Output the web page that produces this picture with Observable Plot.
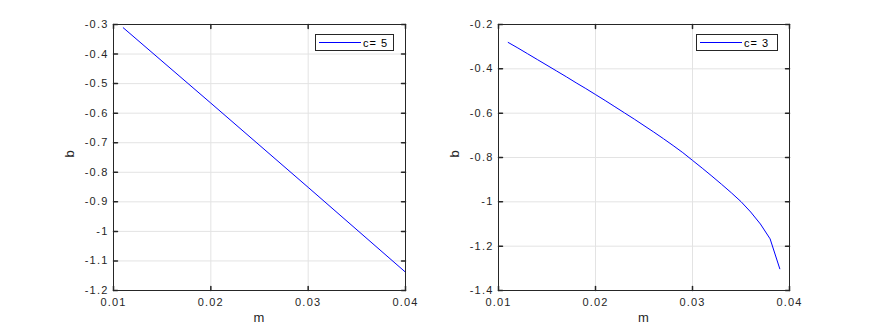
<!DOCTYPE html>
<html><head><meta charset="utf-8">
<script src="https://cdn.jsdelivr.net/npm/d3@7"></script>
<script src="https://cdn.jsdelivr.net/npm/@observablehq/plot@0.6"></script>
<style>
body{margin:0;background:#fff;font-family:"Liberation Sans",Arial,sans-serif;}
#wrap{position:relative;width:872px;height:327px;overflow:hidden;}
.panel{position:absolute;top:0;}
.panel svg text{letter-spacing:1.2px;}
.legend{position:absolute;border:1px solid #262626;background:#fff;height:15px;font-size:11px;letter-spacing:1px;color:#000;display:flex;align-items:center;box-sizing:border-box;}
.legend .sw{display:inline-block;width:42px;height:0;border-top:1px solid #0000ff;margin:0 2px 0 3px;}
</style></head>
<body><div id="wrap"></div>
<script>
// Left panel: c = 5
const mLeft = [0.011, 0.020, 0.030, 0.040];
const bLeft = [-0.311, -0.566, -0.851, -1.138];
const labelLeft = "c= 5";
const xTicks = [0.01, 0.02, 0.03, 0.04];
const yTicksLeft = [-1.2, -1.1, -1, -0.9, -0.8, -0.7, -0.6, -0.5, -0.4, -0.3];

// Right panel: c = 3
const mRight = [0.011,0.012,0.013,0.014,0.015,0.016,0.017,0.018,0.019,0.020,0.021,0.022,0.023,0.024,0.025,0.026,0.027,0.028,0.029,0.030,0.031,0.032,0.033,0.034,0.035,0.036,0.037,0.038,0.039];
const bRight = [-0.281,-0.306,-0.332,-0.358,-0.384,-0.410,-0.436,-0.463,-0.489,-0.516,-0.543,-0.571,-0.599,-0.627,-0.656,-0.685,-0.715,-0.746,-0.778,-0.813,-0.848,-0.884,-0.921,-0.959,-0.999,-1.046,-1.100,-1.167,-1.302];
const labelRight = "c= 3";
const yTicksRight = [-1.4, -1.2, -1, -0.8, -0.6, -0.4, -0.2];

const ink = "#262626";
const tickShape = {draw(ctx, l){ctx.moveTo(0,0); ctx.lineTo(0,-l);}};

function panel({ms, bs, yTicks, yDomain, left, marginLeft, marginRight, legendText, legendBox}) {
  const data = ms.map((m,i)=>({m, b: bs[i]}));
  const xd = [0.01, 0.04];
  const fmtY = d => String(+d.toFixed(1));
  const fmtX = d => d.toFixed(2);
  const chart = Plot.plot({
    width: 436, height: 327,
    marginLeft, marginRight, marginTop: 24, marginBottom: 37,
    style: {fontFamily: '"Liberation Sans", Arial, sans-serif', fontSize: "11px", color: ink, background: "#fff"},
    x: {domain: xd, ticks: xTicks},
    y: {domain: yDomain, ticks: yTicks},
    marks: [
      Plot.gridX(xTicks, {stroke: "#e3e3e3", strokeOpacity: 1}),
      Plot.gridY(yTicks, {stroke: "#e3e3e3", strokeOpacity: 1}),
      Plot.line(data, {x: "m", y: "b", stroke: "#0000ff", strokeWidth: 1}),
      // inward ticks
      Plot.vector(yTicks, {x: xd[0], y: d=>d, rotate: 90, length: 4, anchor: "start", shape: tickShape, stroke: ink}),
      Plot.vector(yTicks, {x: xd[1], y: d=>d, rotate: -90, length: 4, anchor: "start", shape: tickShape, stroke: ink}),
      Plot.vector(xTicks, {x: d=>d, y: yDomain[0], rotate: 0, length: 4, anchor: "start", shape: tickShape, stroke: ink}),
      Plot.vector(xTicks, {x: d=>d, y: yDomain[1], rotate: 180, length: 4, anchor: "start", shape: tickShape, stroke: ink}),
      Plot.frame({stroke: ink}),
      Plot.axisX(xTicks, {tickSize: 0, tickPadding: 8, tickFormat: fmtX, label: null, fill: ink}),
      Plot.axisY(yTicks, {tickSize: 0, tickPadding: 5, tickFormat: fmtY, label: null, fill: ink}),
      Plot.text(["m"], {frameAnchor: "bottom", dy: 31, fontSize: 13, fill: ink}),
      Plot.text(["b"], {frameAnchor: "left", dx: -44, rotate: -90, fontSize: 13, fill: ink})
    ]
  });
  const div = document.createElement("div");
  div.className = "panel";
  div.style.left = left + "px";
  div.appendChild(chart);
  const lg = document.createElement("div");
  lg.className = "legend";
  lg.style.left = legendBox[0] + "px";
  lg.style.top = legendBox[1] + "px";
  lg.style.width = legendBox[2] + "px";
  lg.style.height = legendBox[3] + "px";
  lg.innerHTML = '<span class="sw"></span><span></span>';
  lg.lastChild.textContent = legendText;
  div.appendChild(lg);
  document.getElementById("wrap").appendChild(div);
}

panel({ms: mLeft, bs: bLeft, yTicks: yTicksLeft, yDomain: [-1.2, -0.3], left: 0,
  marginLeft: 113, marginRight: 31, legendText: labelLeft, legendBox: [315, 34, 79, 17]});
panel({ms: mRight, bs: bRight, yTicks: yTicksRight, yDomain: [-1.4, -0.2], left: 436,
  marginLeft: 62, marginRight: 83, legendText: labelRight, legendBox: [696-436, 34, 82, 17]});
</script></body></html>
